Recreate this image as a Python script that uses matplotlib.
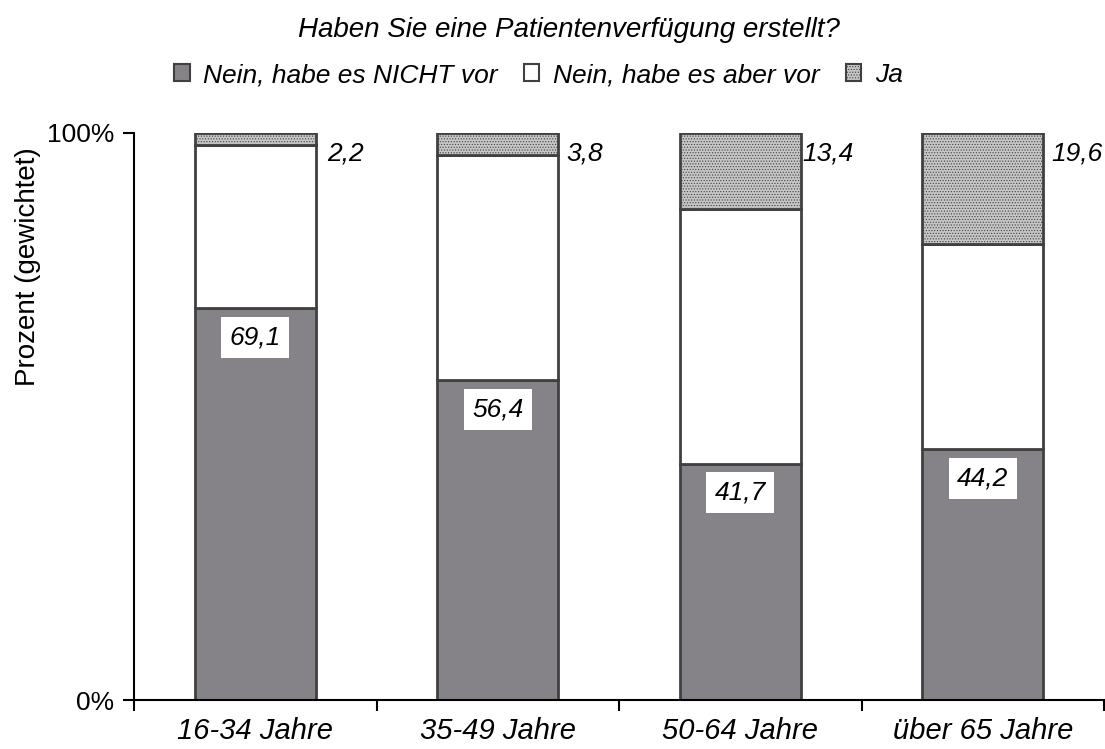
import matplotlib.pyplot as plt
from matplotlib.patches import Patch
import numpy as np

plt.rcParams['font.family'] = ['Liberation Sans', 'DejaVu Sans']
plt.rcParams['hatch.linewidth'] = 0.5

categories = ['16-34 Jahre', '35-49 Jahre', '50-64 Jahre', 'über 65 Jahre']
nein_nicht = [69.1, 56.4, 41.7, 44.2]
ja = [2.2, 3.8, 13.4, 19.6]
nein_vor = [100 - a - b for a, b in zip(nein_nicht, ja)]
series_names = ['Nein, habe es NICHT vor', 'Nein, habe es aber vor', 'Ja']

c_dark = '#858387'
c_white = '#ffffff'
c_ja = '#c6c6c6'
edge = '#404040'

fig = plt.figure(figsize=(11.05, 7.49), dpi=100)
ax = fig.add_axes([134 / 1105, 49 / 749, 970 / 1105, 567 / 749])

x = np.arange(len(categories))
w = 0.5
ax.bar(x, nein_nicht, w, color=c_dark, edgecolor=edge, lw=2)
ax.bar(x, nein_vor, w, bottom=nein_nicht, color=c_white, edgecolor=edge, lw=2)
bot2 = np.array(nein_nicht) + np.array(nein_vor)
ax.bar(x, ja, w, bottom=bot2, color=c_ja, edgecolor=edge, lw=2, hatch='......')

# value labels
for i, v in enumerate(nein_nicht):
    ax.text(i, v - 5.1, f'{v:.1f}'.replace('.', ','), ha='center', va='center',
            fontsize=19, style='italic',
            bbox=dict(facecolor='white', edgecolor='none', pad=6))
offs = [0.37, 0.36, 0.36, 0.39]
for i, v in enumerate(ja):
    ax.text(i + offs[i], 96.3, f'{v:.1f}'.replace('.', ','), ha='center', va='center',
            fontsize=19, style='italic')

ax.set_xlim(-0.5, 3.5)
ax.set_ylim(0, 100)
ax.set_yticks([0, 100])
ax.set_yticklabels(['0%', '100%'], fontsize=19)
ax.set_xticks([-0.5, 0.5, 1.5, 2.5, 3.5])
ax.set_xticklabels([])
ax.set_xticks(x, minor=True)
ax.set_xticklabels(categories, minor=True, fontsize=21, style='italic')
ax.tick_params(axis='x', which='minor', length=0, pad=12)
ax.tick_params(axis='both', which='major', length=8, width=1.5, direction='out', pad=6)
ax.set_ylabel('Prozent (gewichtet)', fontsize=20)
ax.yaxis.set_label_coords(-93 / 970, 0.765)
ax.spines['top'].set_visible(False)
ax.spines['right'].set_visible(False)
ax.spines['left'].set_linewidth(1.5)
ax.spines['bottom'].set_linewidth(1.5)

fig.text(0.515, 1 - 30 / 749, 'Haben Sie eine Patientenverfügung erstellt?', ha='center', va='center',
         fontsize=20, style='italic')
handles = [Patch(facecolor=c_dark, edgecolor=edge, lw=1.5),
           Patch(facecolor=c_white, edgecolor=edge, lw=1.5),
           Patch(facecolor=c_ja, edgecolor=edge, lw=1.5, hatch='......')]
leg = fig.legend(handles, series_names, loc='center', bbox_to_anchor=(0.487, 1 - 75 / 749), ncol=3,
                 frameon=False, handlelength=0.6, handleheight=0.6, handletextpad=0.5,
                 columnspacing=1.0, prop={'size': 19, 'style': 'italic'})

plt.savefig('out.png', dpi=100)
